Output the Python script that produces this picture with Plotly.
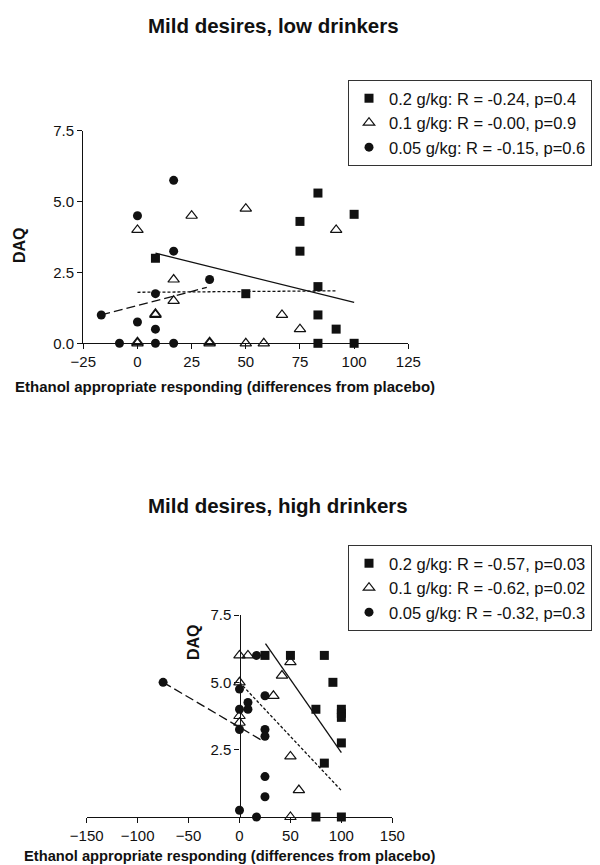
import plotly.graph_objects as go

# ---------------- data ----------------
dose_labels_low = ["0.2 g/kg: R = -0.24, p=0.4",
                   "0.1 g/kg: R = -0.00, p=0.9",
                   "0.05 g/kg: R = -0.15, p=0.6"]
dose_labels_high = ["0.2 g/kg: R = -0.57, p=0.03",
                    "0.1 g/kg: R = -0.62, p=0.02",
                    "0.05 g/kg: R = -0.32, p=0.3"]

# Mild desires, low drinkers
low_02_x = [8.3, 50, 75, 75, 83.3, 83.3, 83.3, 83.3, 91.7, 100, 100]
low_02_y = [3.0, 1.75, 4.3, 3.25, 5.3, 2.0, 1.0, 0.0, 0.5, 4.55, 0.0]
low_01_x = [0, 25, 50, 91.7, 16.7, 16.7, 8.3, 8.3, 66.7, 75, 0, 0, 33.3, 33.3, 50, 58.3]
low_01_y = [4.0, 4.5, 4.75, 4.0, 2.25, 1.5, 1.0, 1.04, 1.0, 0.5, 0.0, 0.04, 0.0, 0.04, 0.0, 0.0]
low_005_x = [-16.7, -8.3, 0, 0, 8.3, 8.3, 8.3, 16.7, 16.7, 16.7, 33.3]
low_005_y = [1.0, 0.0, 4.5, 0.75, 1.75, 0.5, 0.0, 5.75, 3.25, 0.0, 2.25]

low_fit_02_x = [8.3, 100]
low_fit_02_y = [3.18, 1.44]
low_fit_01_x = [0, 91.7]
low_fit_01_y = [1.8, 1.85]
low_fit_005_x = [-16.7, 32]
low_fit_005_y = [1.0, 1.97]

# Mild desires, high drinkers
high_02_x = [25, 50, 83.3, 91.7, 75, 100, 100, 100, 100, 83.3, 75, 100]
high_02_y = [6.0, 6.0, 6.0, 5.0, 4.0, 4.0, 3.85, 3.7, 2.75, 2.0, 0.0, 0.0]
high_01_x = [0, 8.3, 50, 41.7, 33.3, 0, 0, 0, 50, 58.3, 50]
high_01_y = [6.0, 6.0, 5.75, 5.25, 4.5, 5.0, 3.75, 3.5, 2.25, 1.0, 0.0]
high_005_x = [-75, 0, 0, 0, 0, 16.7, 8.3, 8.3, 25, 25, 25, 25, 25, 16.7]
high_005_y = [5.0, 4.75, 4.0, 3.25, 0.25, 6.0, 4.25, 4.0, 4.5, 3.25, 3.0, 1.5, 0.75, 0.0]

high_fit_02_x = [25.5, 100]
high_fit_02_y = [6.44, 2.39]
high_fit_01_x = [0, 100.8]
high_fit_01_y = [5.0, 0.95]
high_fit_005_x = [-75, 24]
high_fit_005_y = [5.0, 2.8]

low_xticks = [-25, 0, 25, 50, 75, 100, 125]
low_yticks = [0, 2.5, 5.0, 7.5]
low_yticktext = ["0.0", "2.5", "5.0", "7.5"]
high_xticks = [-150, -100, -50, 0, 50, 100, 150]
high_yticks = [2.5, 5.0, 7.5]
high_yticktext = ["2.5", "5.0", "7.5"]

# ---------------- layout helpers ----------------
W, H = 600, 865
FONT = "Liberation Sans, Arial, Helvetica, sans-serif"
INK = "#111111"


def fx(p):
    return p / W


def fy(p):
    return 1 - p / H


fig = go.Figure()

marker_styles = [
    dict(symbol="square", size=9, color=INK),
    dict(symbol="triangle-up-open", size=10, color=INK, line=dict(width=1.2, color=INK)),
    dict(symbol="circle", size=9, color=INK),
]
line_dash = ["solid", "3px,2px", "9px,4px"]

panels = [
    ("x", "y", "legend",
     [(low_02_x, low_02_y), (low_01_x, low_01_y), (low_005_x, low_005_y)],
     [(low_fit_02_x, low_fit_02_y), (low_fit_01_x, low_fit_01_y), (low_fit_005_x, low_fit_005_y)],
     dose_labels_low),
    ("x2", "y2", "legend2",
     [(high_02_x, high_02_y), (high_01_x, high_01_y), (high_005_x, high_005_y)],
     [(high_fit_02_x, high_fit_02_y), (high_fit_01_x, high_fit_01_y), (high_fit_005_x, high_fit_005_y)],
     dose_labels_high),
]

for xa, ya, lg, pts, fits, labels in panels:
    for (lx, ly), dash in zip(fits, line_dash):
        fig.add_trace(go.Scatter(x=lx, y=ly, mode="lines", xaxis=xa, yaxis=ya,
                                 line=dict(color=INK, width=1.3, dash=dash),
                                 showlegend=False, hoverinfo="skip"))
    for i, ((px_, py_), ms, lab) in enumerate(zip(pts, marker_styles, labels)):
        fig.add_trace(go.Scatter(x=px_, y=py_, mode="markers", xaxis=xa, yaxis=ya,
                                 marker=ms, name=lab, legend=lg,
                                 legendgroup=lg + str(i),
                                 cliponaxis=False))

axis_common = dict(showgrid=False, zeroline=False, showline=True, linecolor=INK,
                   linewidth=1.3, ticks="outside", ticklen=5, tickwidth=1.2,
                   automargin=False,
                   tickcolor=INK, tickfont=dict(family=FONT, size=15, color=INK))

legend_common = dict(xanchor="left", yanchor="top",
                     bordercolor="#333333", borderwidth=1, bgcolor="white",
                     font=dict(family=FONT, size=16.5, color=INK), tracegroupgap=0,
                     itemwidth=30)

fig.update_layout(
    width=W, height=H,
    margin=dict(l=0, r=0, t=0, b=0, autoexpand=False),
    paper_bgcolor="white", plot_bgcolor="white",
    font=dict(family=FONT, color=INK),
    xaxis=dict(domain=[fx(83.3), fx(408.3)], range=[-25, 125], anchor="y",
               tickvals=low_xticks, **axis_common),
    yaxis=dict(domain=[fy(343.3), fy(130.7)], range=[0, 7.5], anchor="x",
               tickvals=low_yticks, ticktext=low_yticktext, **axis_common),
    xaxis2=dict(domain=[fx(86.7), fx(392.3)], range=[-150, 150], anchor="y2",
                tickvals=high_xticks, **axis_common),
    yaxis2=dict(domain=[fy(817), fy(615)], range=[0, 7.5], anchor="free",
                position=fx(239.5), tickvals=high_yticks, ticktext=high_yticktext,
                **axis_common),
    legend=dict(x=fx(348), y=fy(80), **legend_common),
    legend2=dict(x=fx(348), y=fy(545), **legend_common),
)

annotations = [
    dict(text="<b>Mild desires, low drinkers</b>", x=fx(273), y=fy(25), size=20.5),
    dict(text="<b>Mild desires, high drinkers</b>", x=fx(278), y=fy(505), size=20.5),
    dict(text="<b>Ethanol appropriate responding (differences from placebo)</b>",
         x=fx(225), y=fy(387), size=15),
    dict(text="<b>Ethanol appropriate responding (differences from placebo)</b>",
         x=fx(229), y=fy(856), size=14.7),
]
for a in annotations:
    fig.add_annotation(text=a["text"], x=a["x"], y=a["y"], xref="paper", yref="paper",
                       xanchor="center", yanchor="middle", showarrow=False,
                       font=dict(family=FONT, size=a["size"], color=INK))
for (xx, yy) in [(19, 245), (193, 642)]:
    fig.add_annotation(text="<b>DAQ</b>", x=fx(xx), y=fy(yy), xref="paper", yref="paper",
                       xanchor="center", yanchor="middle", showarrow=False, textangle=-90,
                       font=dict(family=FONT, size=16, color=INK))

fig.write_html(
    "out.html",
    config={"displayModeBar": False},
    post_script="document.body.style.margin='0';document.body.style.overflow='hidden';"
                "document.documentElement.style.overflow='hidden';",
)
